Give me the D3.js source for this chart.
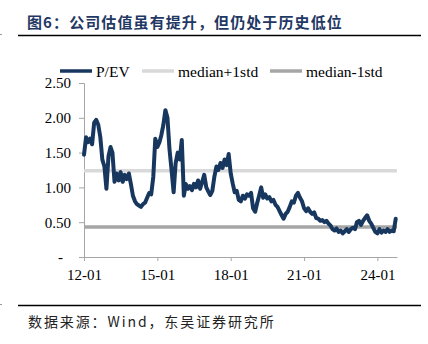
<!DOCTYPE html>
<html><head><meta charset="utf-8">
<script src="https://cdn.jsdelivr.net/npm/d3@7"></script>
<style>
html,body{margin:0;padding:0;background:#fff;}
svg{display:block;}
</style></head>
<body>
<svg id="chart" width="428" height="344"></svg>
<script>
const title = "图6：公司估值虽有提升，但仍处于历史低位";
const source = "数据来源：Wind，东吴证券研究所";
const seriesNames = ["P/EV", "median+1std", "median-1std"];
const startMonth = "2012-01";
// monthly P/EV values from 2012-01
const pev = [
1.47,1.72,1.65,1.70,1.62,1.93,1.97,1.90,1.72,1.40,1.30,0.98,
1.45,1.58,1.50,1.08,1.20,1.10,1.22,1.08,1.18,1.12,1.20,1.05,
0.88,0.80,0.76,0.74,0.72,0.76,0.78,0.85,0.92,0.90,1.15,1.70,
1.58,1.65,1.75,1.90,2.11,2.00,1.55,1.25,0.93,1.35,1.50,1.40,
1.68,0.88,1.05,0.98,1.02,0.96,1.05,1.00,1.10,0.98,1.08,1.18,
1.00,0.94,0.89,0.95,1.15,1.30,1.25,1.35,1.28,1.40,1.32,1.48,
1.20,1.05,0.93,0.95,0.82,0.80,0.88,0.84,0.90,0.88,0.92,0.70,
0.65,0.78,0.88,1.00,0.85,0.90,0.84,0.86,0.80,0.82,0.75,0.72,
0.66,0.60,0.55,0.62,0.65,0.72,0.80,0.78,0.88,0.92,0.85,0.80,
0.70,0.66,0.70,0.65,0.62,0.64,0.56,0.55,0.52,0.53,0.50,0.52,
0.48,0.45,0.40,0.38,0.41,0.36,0.38,0.34,0.37,0.40,0.36,0.40,
0.42,0.40,0.50,0.52,0.46,0.52,0.56,0.60,0.52,0.48,0.42,0.36,
0.34,0.40,0.35,0.38,0.36,0.40,0.36,0.38,0.37,0.55
];
const medianPlus = 1.24;
const medianMinus = 0.43;
const yTicks = [0, 0.5, 1.0, 1.5, 2.0, 2.5];
const yTickLabels = ["-", "0.50", "1.00", "1.50", "2.00", "2.50"];
const xTicks = ["2012-01", "2015-01", "2018-01", "2021-01", "2024-01"];
const xTickLabels = ["12-01", "15-01", "18-01", "21-01", "24-01"];
const xEnd = "2024-10-20";

const parse = d3.timeParse("%Y-%m");
const t0 = parse(startMonth);
const data = pev.map((v, i) => ({date: d3.timeMonth.offset(t0, i), v}));

const svg = d3.select("#chart");
const navy = "#17375e";
const serif = "'Liberation Serif','Times New Roman',serif";
const cjk = "'Noto Sans CJK SC','Noto Sans CJK JP',sans-serif";

const x = d3.scaleTime().domain([t0, new Date(xEnd)]).range([84, 397]);
const y = d3.scaleLinear().domain([0, 2.5]).range([257, 83]);

// title
svg.append("text").attr("x", 27).attr("y", 28)
  .attr("font-family", cjk).attr("font-weight", "bold")
  .attr("font-size", 15).attr("letter-spacing", 1.1)
  .attr("fill", "#1f3864").text(title);
svg.append("line").attr("x1", 18).attr("x2", 421).attr("y1", 35.5).attr("y2", 35.5)
  .attr("stroke", "#000").attr("stroke-width", 1.6);
svg.append("line").attr("x1", 18).attr("x2", 421).attr("y1", 305.5).attr("y2", 305.5)
  .attr("stroke", "#000").attr("stroke-width", 1.6);
svg.append("line").attr("x1", 0).attr("x2", 2).attr("y1", 34.5).attr("y2", 34.5).attr("stroke", "#999");
svg.append("line").attr("x1", 0).attr("x2", 2).attr("y1", 304.5).attr("y2", 304.5).attr("stroke", "#999");
svg.append("text").attr("x", 28).attr("y", 327)
  .attr("font-family", cjk).attr("font-size", 14).attr("letter-spacing", 1.9)
  .attr("fill", "#222").text(source);

// axes
const yAxis = d3.axisLeft(y).tickValues(yTicks)
  .tickFormat((d, i) => yTickLabels[i]).tickSize(5).tickPadding(8);
const gy = svg.append("g").attr("transform", "translate(84,0)").call(yAxis);
gy.select(".domain").attr("stroke", "#a6a6a6");
gy.selectAll(".tick line").attr("stroke", "#a6a6a6");
gy.selectAll("text").attr("font-family", serif).attr("font-size", 15).attr("fill", "#000");
gy.selectAll(".tick text").filter((d) => d === 0).attr("dx", -8);

const xAxis = d3.axisBottom(x).tickValues(xTicks.map(parse))
  .tickFormat((d, i) => xTickLabels[i]).tickSize(4).tickSizeOuter(0).tickPadding(8);
const gx = svg.append("g").attr("transform", "translate(0,257)").call(xAxis);
gx.select(".domain").attr("stroke", "#a6a6a6");
gx.selectAll(".tick line").attr("stroke", "#a6a6a6");
gx.selectAll("text").attr("font-family", serif).attr("font-size", 15).attr("fill", "#000");

// reference lines
svg.append("line").attr("x1", x.range()[0]).attr("x2", x.range()[1])
  .attr("y1", y(medianPlus)).attr("y2", y(medianPlus))
  .attr("stroke", "#d9d9d9").attr("stroke-width", 3.5);
svg.append("line").attr("x1", x.range()[0]).attr("x2", x.range()[1])
  .attr("y1", y(medianMinus)).attr("y2", y(medianMinus))
  .attr("stroke", "#a6a6a6").attr("stroke-width", 3.5);

// series
const line = d3.line().x(d => x(d.date)).y(d => y(d.v));
svg.append("path").datum(data).attr("d", line)
  .attr("fill", "none").attr("stroke", navy).attr("stroke-width", 4)
  .attr("stroke-linejoin", "round").attr("stroke-linecap", "round");

// legend
const leg = [
  {name: seriesNames[0], x: 60, color: navy},
  {name: seriesNames[1], x: 142, color: "#d9d9d9"},
  {name: seriesNames[2], x: 270, color: "#a6a6a6"}
];
const lg = svg.append("g");
leg.forEach(l => {
  lg.append("line").attr("x1", l.x).attr("x2", l.x + 32).attr("y1", 71).attr("y2", 71)
    .attr("stroke", l.color).attr("stroke-width", 3.5);
  lg.append("text").attr("x", l.x + 36).attr("y", 76.5)
    .attr("font-family", serif).attr("font-size", 15.5).attr("fill", "#000").text(l.name);
});
</script>
</body></html>
